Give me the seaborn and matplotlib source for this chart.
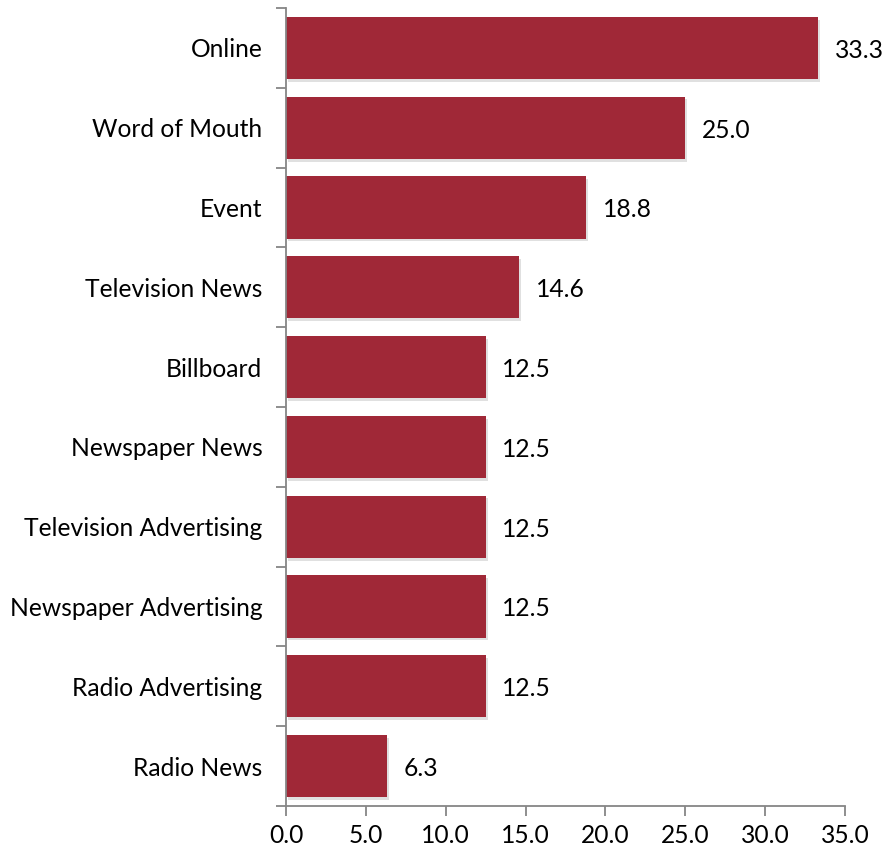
import matplotlib
matplotlib.use("Agg")
import matplotlib.pyplot as plt
import matplotlib.patheffects as pe
import numpy as np
import pandas as pd
import seaborn as sns

categories = ["Online", "Word of Mouth", "Event", "Television News", "Billboard",
              "Newspaper News", "Television Advertising", "Newspaper Advertising",
              "Radio Advertising", "Radio News"]
values = [33.3, 25.0, 18.8, 14.6, 12.5, 12.5, 12.5, 12.5, 12.5, 6.3]
x_ticks = [0, 5, 10, 15, 20, 25, 30, 35]

sns.set_theme(style="white")
plt.rcParams["font.family"] = ["Lato", "DejaVu Sans"]

df = pd.DataFrame({"source": categories, "pct": values})

fig = plt.figure(figsize=(8.85, 8.52), dpi=100)
ax = fig.add_axes([286 / 885, 46 / 852, (845 - 286) / 885, (806 - 8) / 852])

sns.barplot(data=df, x="pct", y="source", order=categories, color="#A02837",
            saturation=1, width=0.78, ax=ax)

for patch in ax.patches:
    patch.set_linewidth(0)
    patch.set_path_effects([pe.SimplePatchShadow(offset=(1.5, -2), shadow_rgbFace="#999999", alpha=0.3),
                            pe.Normal()])

FS = 17.7
for i, v in enumerate(values):
    ax.text(v + 1.05, i + 0.03, f"{v:.1f}", va="center", ha="left", fontsize=FS, color="black")

ax.set_xlim(0, 35)
ax.set_ylim(9.5, -0.5)
ax.set_xticks(x_ticks)
ax.set_xticklabels([f"{t:.1f}" for t in x_ticks], fontsize=FS)
ax.set_yticks(range(len(categories)))
ax.set_yticklabels(categories, fontsize=FS)
ax.set_yticks(np.arange(-0.5, len(categories), 1.0), minor=True)
ax.set_xlabel("")
ax.set_ylabel("")

for s in ["top", "right"]:
    ax.spines[s].set_visible(False)
for s in ["left", "bottom"]:
    ax.spines[s].set_color("#868686")
    ax.spines[s].set_linewidth(1.3)

ax.tick_params(axis="y", which="major", length=0, pad=17, colors="black")
ax.tick_params(axis="y", which="minor", left=True, length=7, width=1.3, color="#868686")
ax.tick_params(axis="x", which="major", bottom=True, length=7, width=1.3, color="#868686",
               labelcolor="black", pad=6)

fig.savefig("out.png", dpi=100)
